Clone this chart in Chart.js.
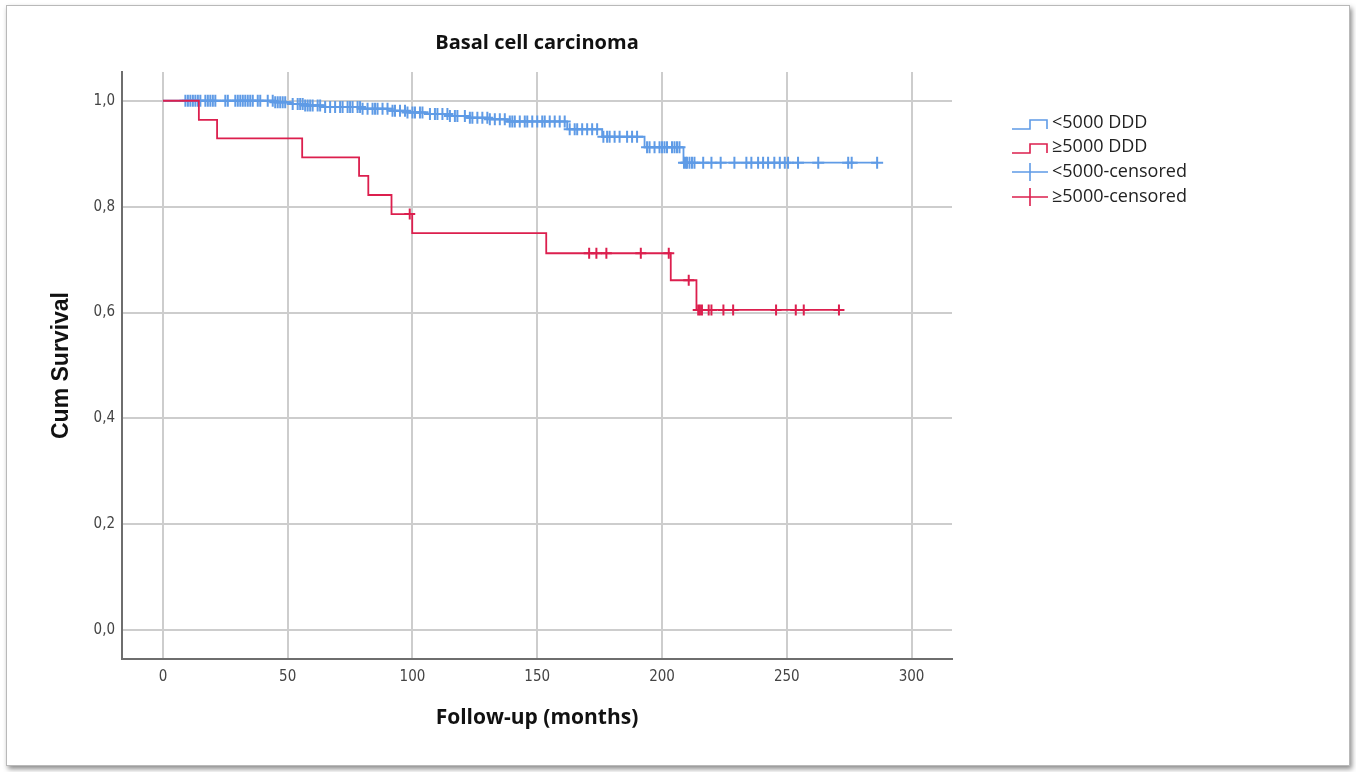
<!DOCTYPE html>
<html>
<head>
<meta charset="utf-8">
<script src="https://cdn.jsdelivr.net/npm/chart.js@4.4.1/dist/chart.umd.min.js"></script>
<style>
    body { margin: 0; background: #ffffff; }
    #frame {
        position: absolute; left: 6px; top: 5px; width: 1342px; height: 759px;
        border: 1px solid #b9b9b9; box-shadow: 2px 3px 5px rgba(0,0,0,0.45); background: #fff;
    }
    #km { position: absolute; left: 0; top: 0; }
</style>
</head>
<body>
<div id="frame"></div>
<canvas id="km" width="1356" height="772"></canvas>
<script>
//ticks
const xTicks = [0, 50, 100, 150, 200, 250, 300];
const yTicks = [0, 0.2, 0.4, 0.6, 0.8, 1.0];

//>=5000 DDD curve (time of each drop, survival after it)
const highTimes = [0, 14.4, 21.7, 55.8, 78.6, 82.3, 91.6, 99.9, 153.6, 203.5, 213.8, 271];
const highSurv = [1.0, 0.964, 0.929, 0.893, 0.858, 0.822, 0.786, 0.750, 0.712, 0.661, 0.605, 0.605];
const highCensored = [98.9, 170.8, 173.7, 177.7, 191.5, 202.7, 210.7, 214.5, 215.2, 216, 218.7, 219.8,
    224.6, 228.5, 245.7, 253.6, 256.8, 270.9];

//<5000 DDD curve
const lowTimes = [0, 45, 52, 57, 65, 80, 92, 98, 106, 115, 122, 131, 138, 162, 176, 193, 208.6, 286.5];
const lowSurv = [1.0, 0.997, 0.994, 0.991, 0.988, 0.985, 0.981, 0.978, 0.975, 0.971, 0.968, 0.965,
    0.961, 0.946, 0.932, 0.912, 0.883, 0.883];
const lowCensored = [9, 10, 11, 12, 13, 14, 15, 17, 18, 19, 20, 21, 25, 26, 29, 30, 31, 32, 33, 34, 35, 36,
    38, 39, 42, 44, 45, 46, 47, 48, 49, 52, 54, 55, 56, 57, 58, 59, 60, 62, 63, 65, 67, 69, 71, 72, 74, 75,
    76, 78, 79, 80, 82, 84, 85, 86, 88, 90, 92, 93, 95, 97, 98, 100, 101, 103, 104, 107, 109, 110, 112, 114,
    115, 117, 118, 121, 123, 124, 126, 128, 130, 131, 133, 135, 137, 139, 140, 141, 143, 145, 146, 148, 150,
    152, 153, 155, 157, 159, 161, 163, 165, 166, 168, 170, 172, 174, 176.5, 178, 179, 181, 183, 186, 188, 190,
    194, 195, 197, 199, 200, 201, 202, 204, 205, 206, 207, 208.8, 209.5, 210, 211, 212, 213, 216.5, 219.8,
    223.5, 229, 233.8, 235.8, 238.5, 240.5, 242.5, 245, 247.2, 249.2, 250.5, 254.5, 262.6, 274.6, 276, 286.2];

const legendLabels = ['<5000 DDD', '\u22655000 DDD', '<5000-censored', '\u22655000-censored'];

const blue = '#5f9be6';
const red = '#dc1f4e';

function stepPoints(times, surv) {
    return times.map((t, i) => ({ x: t, y: surv[i] }));
}

//survival value at time t on a step curve
function survAt(times, surv, t) {
    let s = surv[0];
    for (let i = 0; i < times.length; i++) {
        if (times[i] <= t) s = surv[i];
    }
    return s;
}

function censorPoints(times, surv, cens) {
    return cens.map(t => ({ x: t, y: survAt(times, surv, t) }));
}

//title + legend, drawn in the free space
const extrasPlugin = {
    id: 'extras',
    afterDraw(chart) {
        const ctx = chart.ctx;
        const area = chart.chartArea;
        ctx.save();
        ctx.fillStyle = '#111';
        ctx.font = 'bold 20px "Open Sans"';
        ctx.textAlign = 'center';
        ctx.textBaseline = 'middle';
        ctx.fillText('Basal cell carcinoma', (area.left + area.right) / 2, 43);

        const rowY = [123, 147, 172, 197];
        const colors = [blue, red, blue, red];
        ctx.lineWidth = 1.6;
        legendLabels.forEach((label, i) => {
            const y = rowY[i];
            ctx.strokeStyle = colors[i];
            ctx.beginPath();
            if (i < 2) {
                ctx.moveTo(1012, y + 6);
                ctx.lineTo(1030, y + 6);
                ctx.lineTo(1030, y - 3);
                ctx.lineTo(1047, y - 3);
                ctx.lineTo(1047, y + 6);
            } else {
                ctx.moveTo(1012, y);
                ctx.lineTo(1048, y);
                ctx.moveTo(1030, y - 9);
                ctx.lineTo(1030, y + 9);
            }
            ctx.stroke();
            ctx.fillStyle = '#222';
            ctx.font = '18px "Open Sans"';
            ctx.textAlign = 'left';
            ctx.fillText(label, 1052, y);
        });
        ctx.restore();
    }
};

const tickFont = { family: '"Liberation Sans Narrow", "DejaVu Sans Condensed", "Liberation Sans", sans-serif', size: 15 };

new Chart(document.getElementById('km'), {
    type: 'line',
    data: {
        datasets: [
            {
                label: legendLabels[1],
                data: stepPoints(highTimes, highSurv),
                borderColor: red,
                borderWidth: 1.8,
                stepped: true,
                pointRadius: 0,
                fill: false
            }, {
                label: legendLabels[3],
                data: censorPoints(highTimes, highSurv, highCensored),
                showLine: false,
                pointStyle: 'cross',
                pointRadius: 5.5,
                pointBorderWidth: 2,
                borderColor: red,
                pointBorderColor: red
            }, {
                label: legendLabels[0],
                data: stepPoints(lowTimes, lowSurv),
                borderColor: blue,
                borderWidth: 1.8,
                stepped: true,
                pointRadius: 0,
                fill: false
            }, {
                label: legendLabels[2],
                data: censorPoints(lowTimes, lowSurv, lowCensored),
                showLine: false,
                pointStyle: 'cross',
                pointRadius: 6,
                pointBorderWidth: 2,
                borderColor: blue,
                pointBorderColor: blue
            }
        ]
    },
    options: {
        responsive: false,
        animation: false,
        layout: {
            padding: { left: 0, top: 72, right: 404, bottom: 0 }
        },
        plugins: {
            legend: { display: false },
            title: { display: false },
            tooltip: { enabled: false }
        },
        scales: {
            x: {
                type: 'linear',
                min: -16.4,
                max: 316.2,
                afterBuildTicks: (scale) => { scale.ticks = xTicks.map(v => ({ value: v })); },
                afterFit: (scale) => { scale.height = 113; },
                grid: { color: '#cdcdcd', lineWidth: 2, drawTicks: false },
                border: { display: true, color: '#6e6e6e', width: 2 },
                ticks: { autoSkip: false, maxRotation: 0, padding: 9, color: '#444', font: tickFont },
                title: {
                    display: true,
                    text: 'Follow-up (months)',
                    color: '#111',
                    font: { family: '"Open Sans"', size: 21, weight: 'bold' },
                    padding: { top: 0, bottom: 41 }
                }
            },
            y: {
                min: -0.0543,
                max: 1.0543,
                afterBuildTicks: (scale) => { scale.ticks = yTicks.map(v => ({ value: v })); },
                afterFit: (scale) => { scale.width = 122; },
                grid: { color: '#cdcdcd', lineWidth: 2, drawTicks: false },
                border: { display: true, color: '#6e6e6e', width: 2 },
                ticks: {
                    padding: 7,
                    color: '#444',
                    font: tickFont,
                    callback: (v) => v.toFixed(1).replace('.', ',')
                },
                title: {
                    display: true,
                    text: 'Cum Survival',
                    color: '#111',
                    font: { family: '"Liberation Sans"', size: 23, weight: 'bold' },
                    padding: { top: 48, bottom: 0 }
                }
            }
        }
    },
    plugins: [extrasPlugin]
});
</script>
</body>
</html>
